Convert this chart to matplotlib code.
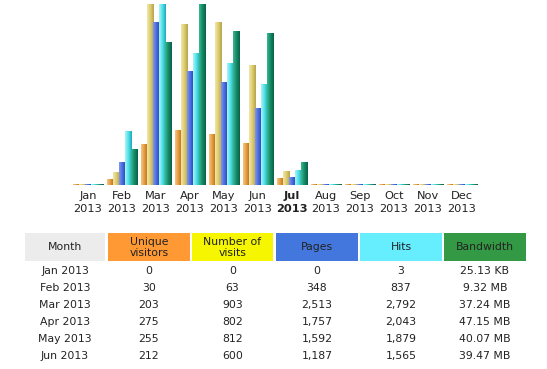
import numpy as np
import matplotlib
matplotlib.use('Agg')
import matplotlib.pyplot as plt
from matplotlib.colors import LinearSegmentedColormap
from matplotlib.patches import Rectangle

months = ['Jan', 'Feb', 'Mar', 'Apr', 'May', 'Jun', 'Jul', 'Aug', 'Sep', 'Oct', 'Nov', 'Dec']
year = '2013'
current = 'Jul'

# chart values (Jul, later months empty)
visitors = [0, 30, 203, 275, 255, 212, 35, 0, 0, 0, 0, 0]
visits = [0, 63, 903, 802, 812, 600, 70, 0, 0, 0, 0, 0]
pages = [0, 348, 2513, 1757, 1592, 1187, 125, 0, 0, 0, 0, 0]
hits = [3, 837, 2792, 2043, 1879, 1565, 230, 0, 0, 0, 0, 0]
bandwidth_mb = [0.025, 9.32, 37.24, 47.15, 40.07, 39.47, 6.0, 0, 0, 0, 0, 0]

# table rows
table_months = ['Jan 2013', 'Feb 2013', 'Mar 2013', 'Apr 2013', 'May 2013', 'Jun 2013']
table_visitors = ['0', '30', '203', '275', '255', '212']
table_visits = ['0', '63', '903', '802', '812', '600']
table_pages = ['0', '348', '2,513', '1,757', '1,592', '1,187']
table_hits = ['3', '837', '2,792', '2,043', '1,879', '1,565']
table_bw = ['25.13 KB', '9.32 MB', '37.24 MB', '47.15 MB', '40.07 MB', '39.47 MB']

W, H = 547, 369
fig = plt.figure(figsize=(W / 100, H / 100), dpi=100)
fig.patch.set_facecolor('white')

def fx(px):
    return px / W

def fy(py):
    return 1 - py / H

# bar chart area: x 71..479, y 4..185 px
ax = fig.add_axes([fx(71), fy(185), fx(479) - fx(71), (185 - 4) / H])
ax.set_xlim(-0.5, 11.5)
ax.set_ylim(0, 1)
ax.axis('off')

x = np.arange(len(months))
bw = 0.18
min_h = 1.0 / 181

# awstats scales: visitors/visits share max, pages/hits share max
vmax = max(visits)
hmax = max(hits)
bmax = max(bandwidth_mb)
series = [
    (visitors, vmax, ('#f7c580', '#e39a3e', '#b86a18')),
    (visits, vmax, ('#f2e7a8', '#dccb70', '#b8a448')),
    (pages, hmax, ('#7d98f0', '#4a6ae0', '#2a44b0')),
    (hits, hmax, ('#a8f6f6', '#50e0e8', '#20a8b8')),
    (bandwidth_mb, bmax, ('#3ab890', '#138a66', '#0a6048')),
]

grad = np.linspace(0, 1, 32).reshape(1, -1)
for k, (vals, mx, cols) in enumerate(series):
    heights = [max(v / mx, min_h) for v in vals]
    cmap = LinearSegmentedColormap.from_list('g%d' % k, cols)
    bars = ax.bar(x + (k - 2) * bw, heights, width=bw, color=cols[1], linewidth=0)
    for b in bars:
        x0, y0 = b.get_x(), b.get_y()
        im = ax.imshow(grad, extent=[x0, x0 + b.get_width(), y0, y0 + b.get_height()],
                       aspect='auto', cmap=cmap, interpolation='bilinear', zorder=3)
        im.set_clip_path(b)

# month labels under bars
for i, m in enumerate(months):
    px = 88 + i * 34
    wt = 'bold' if m == current else 'normal'
    fig.text(fx(px), fy(196), m, ha='center', va='center', fontsize=8.2,
             color='#222222', fontweight=wt, family='DejaVu Sans')
    fig.text(fx(px), fy(209), year, ha='center', va='center', fontsize=8.2,
             color='#222222', fontweight=wt, family='DejaVu Sans')

# table header
headers = [
    (25, 105, '#ececec', 'Month'),
    (108, 190, '#ff9933', 'Unique\nvisitors'),
    (192, 273, '#f6f600', 'Number of\nvisits'),
    (276, 358, '#4477dd', 'Pages'),
    (360, 442, '#66eeff', 'Hits'),
    (444, 526, '#339944', 'Bandwidth'),
]
top, bot = 233, 261
for x0, x1, c, label in headers:
    fig.patches.append(Rectangle((fx(x0), fy(bot)), fx(x1) - fx(x0), (bot - top) / H,
                                 transform=fig.transFigure, facecolor=c, edgecolor='none'))
    fig.text(fx((x0 + x1) / 2), fy((top + bot) / 2 + 0.5), label, ha='center', va='center',
             fontsize=7.8, color='#222222', linespacing=1.05, family='DejaVu Sans')

# table rows
cols = [table_months, table_visitors, table_visits, table_pages, table_hits, table_bw]
for r in range(len(table_months)):
    py = 271 + r * 17
    for (x0, x1, c, label), col in zip(headers, cols):
        fig.text(fx((x0 + x1) / 2), fy(py), col[r], ha='center', va='center',
                 fontsize=7.8, color='#222222', family='DejaVu Sans')

fig.savefig('out.png', dpi=100, facecolor='white')
